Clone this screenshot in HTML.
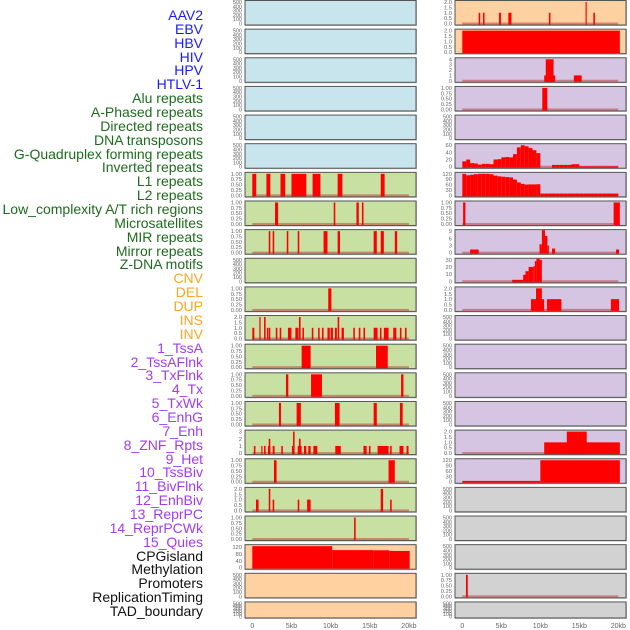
<!DOCTYPE html>
<html><head><meta charset="utf-8"><style>
html,body{margin:0;padding:0;background:#fff;}
#wrap{position:relative;width:630px;height:630px;overflow:hidden;font-family:"Liberation Sans",sans-serif;}
.lab{position:absolute;right:427px;font-size:14px;line-height:14px;white-space:nowrap;}
svg{position:absolute;left:0;top:0;}
</style></head><body>
<div id="wrap">
<svg id="chart" width="630" height="630"></svg>
</div>
<script>
// ---- labels ----
const labelNames = ["AAV2","EBV","HBV","HIV","HPV","HTLV-1","Alu repeats","A-Phased repeats","Directed repeats","DNA transposons","G-Quadruplex forming repeats","Inverted repeats","L1 repeats","L2 repeats","Low_complexity A/T rich regions","Microsatellites","MIR repeats","Mirror repeats","Z-DNA motifs","CNV","DEL","DUP","INS","INV","1_TssA","2_TssAFlnk","3_TxFlnk","4_Tx","5_TxWk","6_EnhG","7_Enh","8_ZNF_Rpts","9_Het","10_TssBiv","11_BivFlnk","12_EnhBiv","13_ReprPC","14_ReprPCWk","15_Quies","CPGisland","Methylation","Promoters","ReplicationTiming","TAD_boundary"];
const labelColors = ["#1a1aff","#1a1aff","#1a1aff","#1a1aff","#1a1aff","#1a1aff","#1e6b1e","#1e6b1e","#1e6b1e","#1e6b1e","#1e6b1e","#1e6b1e","#1e6b1e","#1e6b1e","#1e6b1e","#1e6b1e","#1e6b1e","#1e6b1e","#1e6b1e","#ffa520","#ffa520","#ffa520","#ffa520","#ffa520","#a23cf0","#a23cf0","#a23cf0","#a23cf0","#a23cf0","#a23cf0","#a23cf0","#a23cf0","#a23cf0","#a23cf0","#a23cf0","#a23cf0","#a23cf0","#a23cf0","#a23cf0","#111","#111","#111","#111","#111"];

// ---- tick label sets ----
const T500 = ["0","100","200","300","400","500"];
const T1 = ["0.00","0.25","0.50","0.75","1.00"];
const T2 = ["0.0","0.5","1.0","1.5","2.0"];
const T3 = ["0","1","2","3"];
const T4 = ["0","1","2","3","4"];
const T60 = ["0","20","40","60"];
const T120a = ["0","30","60","90","120"];
const T120b = ["0","40","80","120"];
const T9 = ["0","3","6","9"];
const T30 = ["0","10","20","30"];
const xTickLabels = ["0","5kb","10kb","15kb","20kb"];
const xTickValues = [0,5,10,15,20];

// ---- left column data: [startKb, endKb, value] ----
const L_L1 = [[0,0.5,1],[1.8,2.3,1],[3.6,4.2,1],[5.0,6.9,1],[7.7,8.7,1],[10.9,11.5,1],[16.4,16.9,1]];
const L_L2 = [[2.9,3.3,1],[10.4,10.6,1],[13.3,13.6,1],[14.0,14.2,1]];
const L_MIR = [[2.1,2.3,1],[2.6,2.8,1],[4.4,4.6,1],[5.8,6.0,1],[9.1,9.6,1],[10.9,11.2,1],[15.5,15.9,1],[16.4,16.8,1],[18.2,18.5,1]];
const L_DEL = [[9.7,10.1,1]];
const L_INS = [[0,0.26,1],[0.9,1.06,2],[1.5,1.7,2],[1.87,2.04,1],[2.1,2.3,1],[3.0,3.2,1],[3.5,3.7,1],[4.55,5.0,1],[5.5,5.9,1],[5.96,6.17,2],[6.4,6.6,1],[7.6,7.8,1],[8.4,8.6,1],[8.9,9.1,1],[9.6,9.9,1],[10.0,10.3,1],[10.55,10.8,1],[10.9,11.1,2],[11.4,11.7,1],[12.9,13.1,1],[13.6,13.8,1],[14.2,14.4,1],[15.5,16.0,1],[16.3,16.5,1],[16.8,17.4,1],[18.0,18.4,1],[18.85,19.05,1],[19.5,19.7,1]];
const L_TssA = [[6.3,7.45,1],[15.8,17.3,1]];
const L_TssAFlnk = [[4.3,4.6,1],[7.5,8.9,1],[19.0,19.3,1]];
const L_TxFlnk = [[3.4,3.66,1],[5.66,6.2,1],[10.55,11.15,1],[15.5,15.9,1],[18.85,19.2,1]];
const L_Enh = [[0.2,0.4,1],[1.15,1.3,1],[1.5,1.7,1],[2.0,2.3,1],[2.1,2.3,2],[2.6,2.85,1],[3.7,3.9,1],[5.06,5.2,1],[5.2,5.4,3],[5.8,6.3,1],[5.96,6.17,2],[6.6,6.9,1],[7.15,7.45,1],[7.8,8.3,1],[10.6,11.3,1],[14.2,14.6,1],[14.9,15.1,1],[16.0,17.4,1],[17.6,17.8,1],[18.8,19.3,1],[19.7,19.95,1]];
const L_ZNF = [[2.77,3.1,1],[17.4,18.2,1]];
const L_Het = [[0.47,0.8,1],[2.1,2.3,2],[2.6,2.8,1],[5.8,6.0,1],[7.0,7.45,1],[16.4,16.7,2],[17.6,17.8,1]];
const L_TssBiv = [[13.0,13.2,1]];
const L_CpG = [[0,10.2,125],[10.2,15.5,102],[15.5,17.5,101],[17.5,20.1,97]];

// ---- right column data ----
const R_AAV2 = [[2.1,2.3,1],[2.65,2.85,1],[4.7,4.95,1],[5.9,6.3,1],[11.1,11.3,1],[15.8,15.95,2],[16.8,17.0,1]];
const R_EBV = [[0,20.2,2]];
const R_HIV = [[10.5,11.9,1],[10.7,11.7,4],[14.3,15.3,1]];
const R_HPV = [[10.25,10.9,1]];
const R_G4bins = [15,20,10,9,6,8,8,7,20,21,26,27,26,35,54,60,57,52,46,38,0,0,0,5,5,5,5,5,7,7,1,1,1,1,1,1,1,1,1,1];
const R_L1bins = [120,112,115,118,120,120,120,118,110,106,104,102,100,88,72,64,60,61,61,62,10,10,10,10,10,10,10,10,10,10,10,10,10,10,10,10,10,10,10,10];
const R_LowC = [[0.1,0.4,1],[19.4,20.2,1]];
const R_MIR = [[1.0,2.1,1.3],[9.9,10.2,3.5],[10.2,10.6,10],[10.6,10.9,7],[10.9,11.1,3],[11.5,11.9,1.7],[19.7,20.1,1.3]];
const R_ZDNA = [[6.4,7.8,2],[7.8,8.1,9],[8.1,8.5,14],[8.5,9.1,20],[9.1,9.3,21],[9.3,9.5,28],[9.5,9.9,32],[9.9,10.2,30]];
const R_DEL = [[8.8,10.5,1],[9.45,10.2,2],[10.85,12.7,1],[19.05,20.1,1]];
const R_Enh = [[10.5,20.2,1],[13.4,15.95,2]];
const R_ZNF = [[0,10.0,4],[10.0,20.2,120]];
const R_Prom = [[0.47,0.7,1]];

function bins(arr,w){const o=[];arr.forEach((v,i)=>{if(v>0)o.push([i*w,(i+1)*w,v]);});return o;}

const BLUE="#c8e4ec",GREEN="#c8e0a2",ORANGE="#ffd0a0",PURPLE="#d5c5e2",GRAY="#d2d2d2";
const leftPanels = [
 [BLUE,T500,500,null],[BLUE,T500,500,null],[BLUE,T500,500,null],[BLUE,T500,500,null],[BLUE,T500,500,null],[BLUE,T500,500,null],
 [GREEN,T1,1,L_L1],[GREEN,T1,1,L_L2],[GREEN,T1,1,L_MIR],[GREEN,T500,500,null],[GREEN,T1,1,L_DEL],[GREEN,T2,2,L_INS],
 [GREEN,T1,1,L_TssA],[GREEN,T1,1,L_TssAFlnk],[GREEN,T1,1,L_TxFlnk],[GREEN,T3,3,L_Enh],[GREEN,T1,1,L_ZNF],[GREEN,T2,2,L_Het],
 [GREEN,T1,1,L_TssBiv],[ORANGE,T120b,125,L_CpG],[ORANGE,T500,500,null],[ORANGE,T500,500,null]];
const rightPanels = [
 [ORANGE,T2,2,R_AAV2],[ORANGE,T2,2,R_EBV],[PURPLE,T4,4,R_HIV],[PURPLE,T1,1,R_HPV],[PURPLE,T500,500,null],[PURPLE,T60,60,bins(R_G4bins,0.5)],
 [PURPLE,T120a,120,bins(R_L1bins,0.5)],[PURPLE,T1,1,R_LowC],[PURPLE,T9,9,R_MIR],[PURPLE,T30,30,R_ZDNA],[PURPLE,T2,2,R_DEL],[PURPLE,T500,500,null],
 [PURPLE,T500,500,null],[PURPLE,T500,500,null],[PURPLE,T500,500,null],[PURPLE,T2,2,R_Enh],[PURPLE,T120a,120,R_ZNF],[GRAY,T500,500,null],
 [GRAY,T500,500,null],[GRAY,T500,500,null],[GRAY,T1,1,R_Prom],[GRAY,T500,500,null]];

const NS="http://www.w3.org/2000/svg";
const svg=document.getElementById('chart');
function el(t,a,p){const e=document.createElementNS(NS,t);for(const k in a)e.setAttribute(k,a[k]);(p||svg).appendChild(e);return e;}

const wrap=document.getElementById('wrap');
labelNames.forEach((n,i)=>{
 const d=document.createElement('div');
 d.className='lab';
 
 
 d.style.top=(8+i*13.86)+'px';
 d.style.color=labelColors[i];
 d.textContent=n;
 wrap.appendChild(d);
});

function xScale(col,kb){return col===0?252.3+kb*7.83:462.3+kb*7.8;}
function drawCol(panels,col){
 const x0=col===0?245:455,x1=col===0?416:626;
 panels.forEach((p,i)=>{
  const top=i*28.64+0.5,h=(i===21)?16:24.5,bot=top+h;
  const g=el('g',{});
  
  
  el('rect',{x:x0+0.5,y:top+0.5,width:x1-x0,height:h,fill:'none',stroke:'#bbb','stroke-width':1},g);
  el('rect',{x:x0,y:top,width:x1-x0,height:h,fill:p[0],stroke:'#555','stroke-width':1},g);
  const yS=v=>bot-1.5-(v/p[2])*(h-3);
  p[1].forEach((t,k)=>{
   const v=p[2]===125?[0,40,80,120][k]:(parseFloat(t));
   const tx=el('text',{x:x0-3,y:yS(v)+2,'font-size':(p[1]===T500?5.5:5.8),'text-anchor':'end',fill:'#666'},g);
   
   
   tx.textContent=t;
  });
  if(p[3]){
   const full=p[3].length===1&&p[3][0][1]-p[3][0][0]>15;
   if(!full&&p[0]!==ORANGE||p===rightPanels[0]){
    const bl=el('rect',{x:xScale(col,0),y:bot-2.5,width:xScale(col,20)-xScale(col,0),height:2,fill:'rgba(190,50,50,0.5)'},g);
    
    
   }
   p[3].forEach(s=>{
    const xa=xScale(col,s[0]),xb=xScale(col,s[1]),yt=Math.max(yS(s[2]),top+0.5);
    const r=el('rect',{x:xa,y:yt,width:Math.max(xb-xa,1),height:bot-0.5-yt,fill:'#ff0000'},g);
    
    
   });
  }
 });
 xTickValues.forEach((v,k)=>{
  const t=el('text',{x:xScale(col,v),y:628,'font-size':7,'text-anchor':'middle',fill:'#666'});
  
  
  t.textContent=xTickLabels[k];
 });
}
drawCol(leftPanels,0);
drawCol(rightPanels,1);
</script>
</body></html>
